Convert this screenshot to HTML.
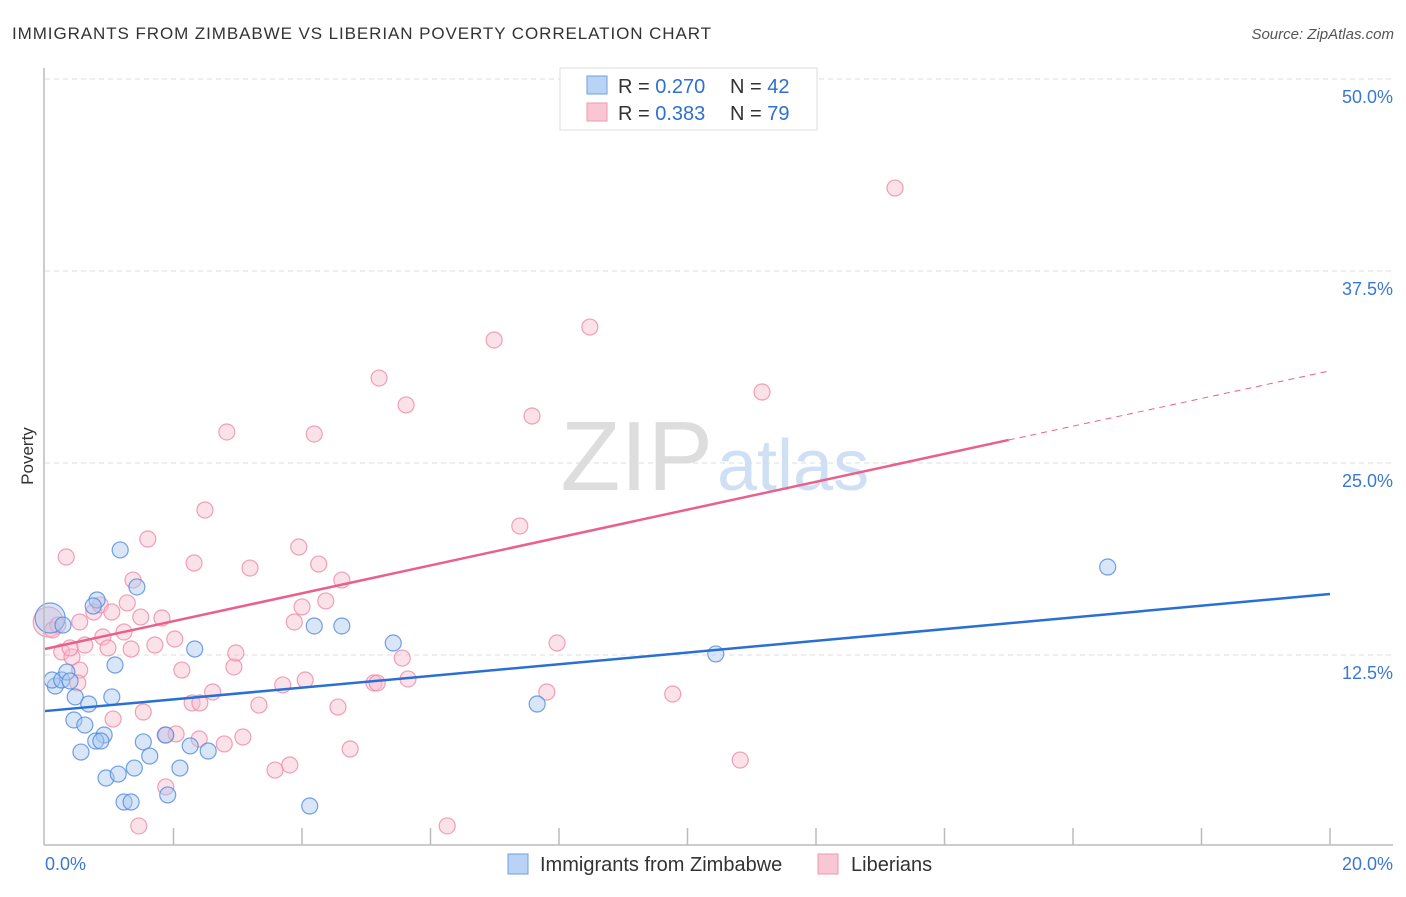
<!DOCTYPE html>
<html><head><meta charset="utf-8"><style>
body{margin:0;background:#fff;font-family:"Liberation Sans",sans-serif;}
svg text{font-family:"Liberation Sans",sans-serif;}
</style></head><body>
<svg id="chart" width="1406" height="892" xmlns="http://www.w3.org/2000/svg">
<text x="12" y="39" font-size="17" fill="#333" textLength="699">IMMIGRANTS FROM ZIMBABWE VS LIBERIAN POVERTY CORRELATION CHART</text>
<text x="1394" y="39" font-size="15" fill="#555" text-anchor="end" font-style="italic">Source: ZipAtlas.com</text>
<text x="33" y="456" font-size="17" fill="#333" text-anchor="middle" transform="rotate(-90 33 456)">Poverty</text>
<g id="grid"></g><g id="wm"><text x="713" y="490" font-size="98" fill="#ddd" text-anchor="end" font-family="Liberation Serif">ZIP</text><text x="717" y="490" font-size="72" fill="#cfe0f5">atlas</text></g>
<g id="pts"></g><g id="lines"></g><g id="axes"></g>
<g>
<rect x="560" y="68" width="257" height="62" fill="#fff" stroke="#ddd"/>
<rect x="587" y="76" width="20" height="18" fill="#b8d3f5" stroke="#6fa0e0"/>
<rect x="587" y="103" width="20" height="18" fill="#f9c6d4" stroke="#ee99b2"/>
<text x="618" y="93" font-size="20" fill="#333">R = <tspan fill="#2d6fd2">0.270</tspan></text>
<text x="730" y="93" font-size="20" fill="#333">N = <tspan fill="#2d6fd2">42</tspan></text>
<text x="618" y="120" font-size="20" fill="#333">R = <tspan fill="#2d6fd2">0.383</tspan></text>
<text x="730" y="120" font-size="20" fill="#333">N = <tspan fill="#2d6fd2">79</tspan></text>
</g>
<g>
<rect x="508" y="854" width="20" height="20" fill="#b8d3f5" stroke="#6fa0e0"/>
<text x="540" y="871" font-size="20" fill="#333">Immigrants from Zimbabwe</text>
<rect x="818" y="854" width="20" height="20" fill="#f9c6d4" stroke="#ee99b2"/>
<text x="851" y="871" font-size="20" fill="#333">Liberians</text>
</g>
</svg>
<script>
const yTicks=[12.5,25,37.5,50];
const yTickLabels=["12.5%","25.0%","37.5%","50.0%"];
const blueX=[.08,.16,.11,.26,.34,.39,.28,.47,.68,.45,.62,.56,.81,.75,.92,.79,.87,1.04,1.09,1.17,1.43,.95,1.14,1.23,1.34,1.39,1.53,1.63,1.88,1.91,2.10,2.26,2.33,2.54,4.19,4.62,5.42,4.12,7.66,10.44,16.54];
const blueY=[14.91,10.48,10.87,10.87,11.39,10.81,14.45,9.77,9.31,8.27,7.94,6.18,16.08,15.69,7.29,6.90,6.90,9.77,11.85,19.34,16.93,4.49,4.75,2.93,2.93,5.14,6.84,5.92,7.29,3.39,5.14,6.58,12.89,6.25,14.39,14.39,13.28,2.67,9.31,12.57,18.23];
const pinkX=[.05,.12,.20,.33,.26,.42,.39,.54,.62,.54,.51,.76,.86,.90,.98,1.04,1.06,1.23,1.28,1.34,1.37,1.49,1.53,1.60,1.71,1.82,1.87,1.88,2.02,2.04,2.13,2.29,2.32,2.40,2.41,2.49,2.61,2.79,2.83,2.94,2.97,3.08,3.19,3.33,3.58,3.70,3.81,3.88,3.95,4.00,4.05,4.19,4.26,4.37,4.56,4.62,4.75,5.12,5.17,5.20,5.56,5.62,5.65,6.26,6.99,7.39,7.58,7.81,7.97,8.48,9.77,10.82,11.16,13.23,1.46];
const pinkY=[14.65,14.13,14.45,18.88,12.70,12.37,12.96,14.65,13.15,11.52,10.68,15.30,15.76,13.67,12.96,15.30,8.33,14.00,15.89,12.89,17.38,14.97,8.79,20.05,13.15,14.91,7.29,3.91,13.54,7.36,11.52,9.38,18.49,7.03,9.38,21.94,10.09,6.71,27.02,11.72,12.63,7.16,18.16,9.24,5.01,10.55,5.34,14.65,19.53,15.63,10.87,26.89,18.42,16.02,9.11,17.38,6.38,10.68,10.68,30.53,12.30,28.78,10.94,1.37,33.01,20.90,28.06,10.09,13.28,33.85,9.96,5.66,29.62,42.90,1.37];
const blueTrend=[8.85,16.47];
const pinkTrend=[12.89,26.5,31.0];
const NS="http://www.w3.org/2000/svg";
const sx=v=>45+v*64.25, sy=v=>847-v*15.36;
function mk(tag,attrs,parent){const e=document.createElementNS(NS,tag);for(const k in attrs)e.setAttribute(k,attrs[k]);document.getElementById(parent).appendChild(e);return e;}
yTicks.forEach((t,i)=>{
 const l=mk('line',{x1:45,x2:1393,y1:sy(t),y2:sy(t),stroke:'#ddd','stroke-dasharray':'5,4'},'grid');
 
 
 const tx=mk('text',{x:1393,y:sy(t)+24,'font-size':18,fill:'#3a78d4','text-anchor':'end'},'grid');
 tx.textContent=yTickLabels[i];
 
 
});
mk('line',{x1:44,x2:44,y1:68,y2:845,stroke:'#bbb','stroke-width':1.5},'axes');
mk('line',{x1:44,x2:1393,y1:845,y2:845,stroke:'#bbb','stroke-width':1.5},'axes');
for(let i=1;i<=10;i++){const x=sx(i*2);const t=mk('line',{x1:x,x2:x,y1:828,y2:845,stroke:'#bbb','stroke-width':1.5},'axes');
 
 }
let a=mk('text',{x:45,y:870,'font-size':18,fill:'#3a78d4'},'axes');a.textContent='0.0%';


a=mk('text',{x:1393,y:870,'font-size':18,fill:'#3a78d4','text-anchor':'end'},'axes');a.textContent='20.0%';


function dots(X,Y,fill,stroke,name){X.forEach((x,i)=>{const r=(i===0)?15:8;
 const c=mk('circle',{cx:sx(x),cy:sy(Y[i]),r:r,fill:fill,'fill-opacity':0.45,stroke:stroke,'stroke-opacity':0.8,'stroke-width':1.2},'pts');
 
 });}
dots(pinkX,pinkY,'#f7bccd','#ec8aa8','liberian-point');
dots(blueX,blueY,'#a9c8f0','#4f8ae0','zimbabwe-point');
let ln=mk('line',{x1:sx(0),y1:sy(blueTrend[0]),x2:sx(20),y2:sy(blueTrend[1]),stroke:'#2a6fd6','stroke-width':2.5},'lines');


ln=mk('line',{x1:sx(0),y1:sy(pinkTrend[0]),x2:sx(15),y2:sy(pinkTrend[1]),stroke:'#e8608c','stroke-width':2.5},'lines');


ln=mk('line',{x1:sx(15),y1:sy(pinkTrend[1]),x2:sx(20),y2:sy(pinkTrend[2]),stroke:'#e8608c','stroke-width':1,'stroke-dasharray':'6,5'},'lines');


</script>
</body></html>
